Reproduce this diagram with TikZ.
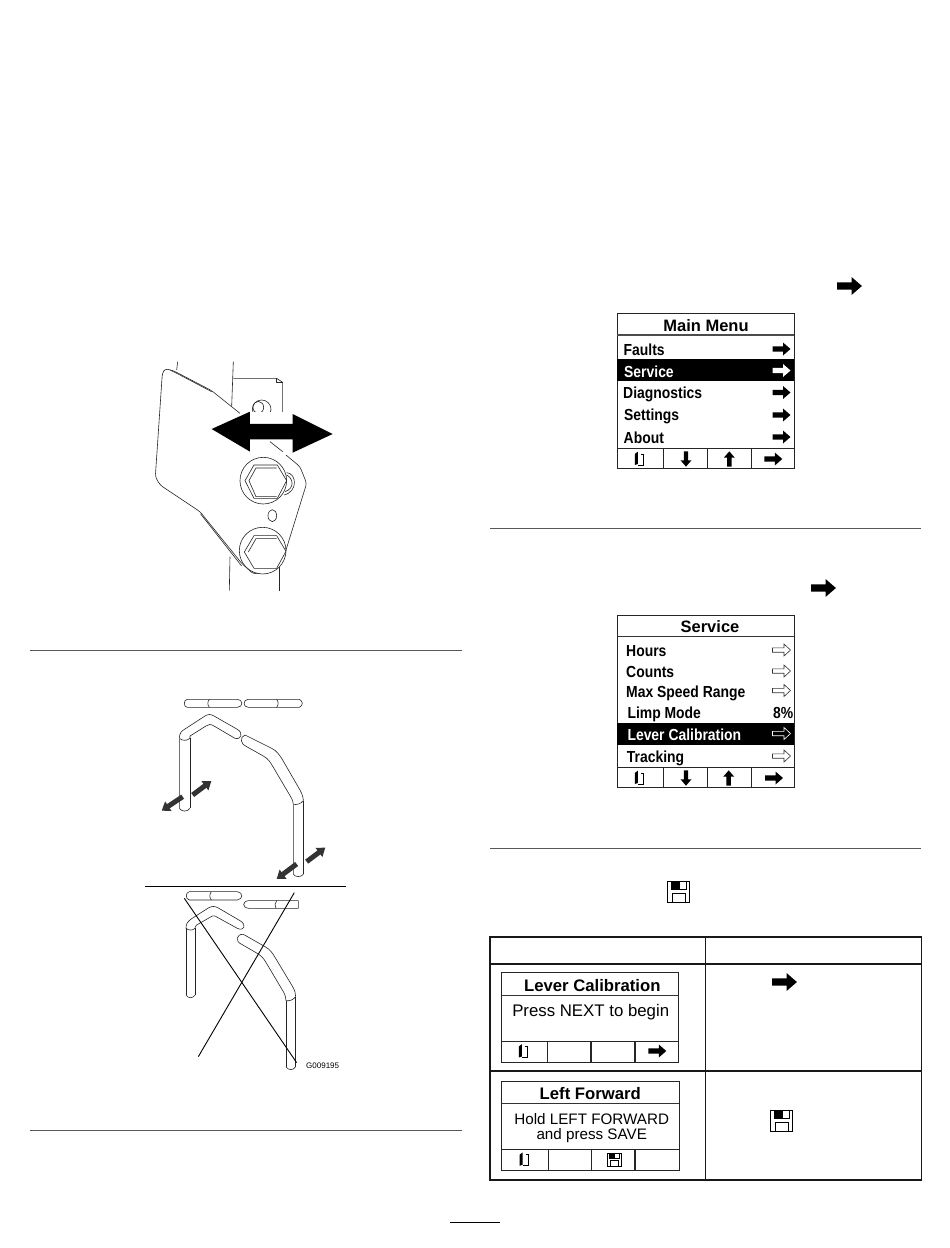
\documentclass[tikz,border=0pt]{standalone}
\usepackage{fontspec}
\setmainfont{Liberation Sans}
\newfontfamily\scrfam[FakeStretch=0.87]{Liberation Sans}
\usetikzlibrary{arrows.meta}
\newcommand{\fs}[1]{\fontsize{#1}{#1}\selectfont}
\tikzset{
  ruleline/.style={line width=1pt,draw=black!65},
  tubeline/.style={line width=0.6pt,draw=black!85,line join=round},
  thinline/.style={line width=0.7pt,draw=black},
  crossline/.style={line width=0.9pt,draw=black},
  movearrow/.style={line width=5pt,draw=black!80,-{Triangle[width=11pt,length=8pt]}},
  screenbox/.style={line width=1pt,draw=black!85,fill=white},
  softkey/.style={line width=1.5pt,draw=black!85},
  tablegrid/.style={line width=1.2pt,draw=black!90},
  menuitem/.style={anchor=base west,inner sep=0pt,font=\scrfam\bfseries\fs{16}},
  menuval/.style={anchor=base east,inner sep=0pt,font=\scrfam\bfseries\fs{16}},
  screentitle/.style={anchor=base,inner sep=0pt,font=\bfseries\fs{16.5}},
  screenbody/.style={anchor=base,inner sep=0pt},
  pics/solidarrow/.style={code={\fill (-9,-2.6)--(1.5,-2.6)--(1.5,-6.5)--(9,0)--(1.5,6.5)--(1.5,2.6)--(-9,2.6)--cycle;}},
  pics/hollowarrow/.style={code={\draw[line width=0.6pt] (-9,-2.2)--(2.5,-2.2)--(2.5,-6)--(9,0)--(2.5,6)--(2.5,2.2)--(-9,2.2)--cycle;}},
  pics/dooricon/.style={code={
    \fill (-4.5,6.5)--(-1.5,5.5)--(-1.5,-6.8)--(-4.5,-4.5)--cycle;
    \draw[line width=1pt] (-1,6.5)--(4,6.5)--(4,-4.5)--(1.5,-4.5);}},
  pics/saveicon/.style={code={
    \draw[line width=1.3pt,line join=miter] (-11,-10.5)--(11,-10.5)--(11,10.5)--(-11,10.5)--cycle;
    \draw[line width=1pt] (-6.5,10.5)--(-6.5,1.5)--(6.5,1.5)--(6.5,10.5);
    \draw[line width=1pt] (-7.5,-10.5)--(-7.5,-3)--(7.5,-3)--(7.5,-10.5);
    \fill (-7.5,-3) rectangle (1.5,-10.5);}}
}
\begin{document}
\begin{tikzpicture}[x=1pt,y=-1pt]
\useasboundingbox (0,0) rectangle (950,1248);
\fill[white] (0,0) rectangle (950,1248);

% page rules
\draw[ruleline] (30,650)--(462,650);
\draw[ruleline] (30,1130)--(462,1130);
\draw[ruleline] (490,528)--(921,528);
\draw[ruleline] (490,848)--(921,848);
\draw[line width=1pt,draw=black] (450,1222)--(500,1222);

% ---- figure 1: bracket and bolts
\begin{scope}[shift={(130,350)},x=0.3333pt,y=-0.3333pt]
  \draw[tubeline] (143,35)--(140,60);
  \draw[tubeline] (310,35)--(305,170);
  \draw[tubeline] (310,85)--(440,85)--(458,97)--(458,300);
  \draw[tubeline] (440,85)--(440,97)--(458,97);
  \draw[tubeline] (300,620)--(298,722);
  \draw[tubeline] (448,650)--(448,722);
  \draw[tubeline] (365,210)--(458,210);
  \draw[tubeline] (395,178) circle[radius=28];
  \draw[tubeline] (385,172) ellipse[x radius=16,y radius=18];
  % plate
  \draw[tubeline,rounded corners=3pt,fill=white]
     (330,190)--(245,122)--(130,62)--(105,56)--(97,70)--(76,380)--(90,405)--(210,485)--(335,640)--(370,672)--(430,665)--(465,610)--(530,400)--(510,350)--(420,275);
  \draw[tubeline] (245,125)--(150,75)--(120,60);
  \draw[tubeline] (212,492)--(335,648);
  % upper bolt
  \draw[tubeline] (470,368)..controls (500,370) and (505,425)..(462,435);
  \draw[tubeline] (470,375)..controls (490,385) and (495,415)..(465,425);
  \draw[tubeline,fill=white] (400,392) circle[radius=70];
  \draw[tubeline] (345,392)--(372,345)--(442,345)--(470,392)--(442,445)--(372,445)--cycle;
  \draw[tubeline] (357,392)--(378,354)--(440,354);
  \draw[tubeline] (357,392)--(378,440)--(440,440);
  % small hole
  \draw[tubeline] (427,497) ellipse[x radius=13,y radius=18];
  % lower bolt
  \draw[tubeline,fill=white] (398,602) circle[radius=70];
  \draw[tubeline] (343,606)--(372,557)--(440,557)--(468,604)--(440,655)--(372,655)--cycle;
  \draw[tubeline] (355,606)--(378,566)--(440,566);
  % double arrow
  \fill[white] (360,185)--(488,185)--(488,315)--(360,315)--cycle;
  \fill[black] (245,237)--(360,185)--(360,222)--(488,222)--(488,192)--(608,252)--(488,308)--(488,268)--(360,268)--(360,305)--cycle;
  \draw[tubeline] (420,275)--(458,305);
\end{scope}

% ---- figure 2: tube routing
\begin{scope}[shift={(140,680)},x=0.3333pt,y=-0.3333pt]
  % top slats
  \draw[tubeline] (142,58)--(292,58)..controls (310,58) and (310,82)..(292,82)--(142,82)..controls (130,82) and (130,58)..(142,58);
  \draw[tubeline] (208,58)..controls (202,66) and (202,74)..(208,82);
  \draw[tubeline] (325,58)--(478,58)..controls (490,64) and (490,76)..(478,82)--(325,82)..controls (308,82) and (308,58)..(325,58);
  \draw[tubeline] (410,58)..controls (416,66) and (416,74)..(410,82);
  % left tube
  \draw[tubeline] (118,175)..controls (118,160) and (125,152)..(135,147)--(195,108)..controls (205,102) and (212,102)..(222,108)--(292,148)..controls (310,158) and (305,180)..(285,175)--(222,138)..controls (212,132) and (206,132)..(198,138)--(150,168)..controls (150,172) and (150,174)..(150,175);
  \draw[tubeline] (118,175)..controls (128,183) and (140,183)..(150,175);
  \draw[line width=1pt,draw=black!55] (118,175)--(118,385);
  \draw[tubeline] (150,175)--(150,385);
  \draw[tubeline] (118,385)..controls (125,396) and (142,396)..(150,385);
  % right tube
  \draw[tubeline] (315,165)--(395,205)..controls (410,212) and (418,225)..(425,235)--(480,330)..controls (488,345) and (490,355)..(490,362);
  \draw[tubeline] (315,165)..controls (298,170) and (302,195)..(320,200)--(370,228)..controls (385,236) and (392,248)..(400,262)--(452,350)..controls (458,360) and (460,368)..(460,373);
  \draw[tubeline] (460,373)..controls (470,375) and (482,372)..(490,362);
  \draw[line width=1pt,draw=black!55] (460,373)--(460,583);
  \draw[tubeline] (490,362)--(490,583);
  \draw[tubeline] (460,583)..controls (466,592) and (484,592)..(490,583);
  % move arrows
  \coordinate (a1s) at (128,350);\coordinate (a1e) at (65,392);
  \coordinate (a2s) at (158,345);\coordinate (a2e) at (214,303);
  \coordinate (a3s) at (470,552);\coordinate (a3e) at (410,597);
  \coordinate (a4s) at (500,545);\coordinate (a4e) at (556,503);
  \draw[movearrow] (a1s)--(a1e);
  \draw[movearrow] (a2s)--(a2e);
  \draw[movearrow] (a3s)--(a3e);
  \draw[movearrow] (a4s)--(a4e);
  % divider
  \draw[line width=1.1pt] (15,620)--(618,620);
  % lower slats
  \draw[tubeline] (148,635)--(292,635)..controls (310,637) and (310,658)..(292,660)--(148,660)..controls (136,658) and (136,637)..(148,635);
  \draw[tubeline] (214,635)..controls (208,643) and (208,652)..(214,660);
  \draw[tubeline] (326,662)--(475,662)--(475,685)--(326,685)..controls (306,683) and (306,664)..(326,662);
  \draw[tubeline] (410,662)..controls (404,670) and (404,678)..(408,685);
  % lower left tube
  \draw[tubeline] (138,745)..controls (138,732) and (142,725)..(155,716)--(205,684)..controls (215,678) and (225,678)..(235,684)--(300,722)..controls (322,735) and (312,755)..(292,745)--(232,712)..controls (224,706) and (218,706)..(210,712)--(170,735)..controls (166,738) and (165,742)..(165,745);
  \draw[tubeline] (138,745)..controls (146,752) and (158,752)..(165,745);
  \draw[tubeline] (138,745)--(138,945);
  \draw[tubeline] (165,745)--(165,945);
  \draw[tubeline] (138,945)..controls (145,956) and (158,956)..(165,945);
  % lower right tube
  \draw[tubeline] (310,763)--(375,800)..controls (390,808) and (398,820)..(405,832)--(458,920)..controls (465,932) and (467,942)..(467,950);
  \draw[tubeline] (310,763)..controls (288,762) and (285,785)..(305,793)--(355,822)..controls (368,830) and (375,842)..(382,854)--(430,935)..controls (436,945) and (438,955)..(438,962);
  \draw[tubeline] (438,962)..controls (448,964) and (460,960)..(467,950);
  \draw[tubeline] (438,962)--(438,1160);
  \draw[tubeline] (467,950)--(467,1160);
  \draw[tubeline] (438,1160)..controls (445,1172) and (460,1172)..(467,1160);
  % cross
  \draw[crossline] (133,655)--(470,1148);
  \draw[crossline] (463,638)--(175,1130);
\end{scope}
\node[anchor=base west,inner sep=0pt,font=\fs{8}] (gnum) at (306,1068.5) {G009195};

% ---- loose icons
\path (849.5,286) pic[scale=1.38] {solidarrow};
\path (823.5,588) pic[scale=1.38] {solidarrow};
\path (678.5,892) pic {saveicon};

% ---- Main Menu screen
\draw[screenbox] (617.3,313.3) rectangle (794.3,468.3);
\fill[black] (617.3,359.3) rectangle (794.3,381);
\draw[line width=1.2pt,draw=black!70] (617.3,335)--(794.3,335);
\draw[softkey] (617.3,448.3)--(794.3,448.3);
\draw[softkey] (663.3,448.3)--(663.3,468.3);
\draw[softkey] (707.3,448.3)--(707.3,468.3);
\draw[softkey] (751.7,448.3)--(751.7,468.3);
\node[screentitle] (mmtitle) at (706,331.7) {Main Menu};
\node[menuitem] (mm1) at (623.5,355) {Faults};
\node[menuitem,text=white] (mm2) at (624,377.3) {Service};
\node[menuitem] (mm3) at (623,398.3) {Diagnostics};
\node[menuitem] (mm4) at (624,420.7) {Settings};
\node[menuitem] (mm5) at (623.5,443.3) {About};
\path (781.5,349) pic {solidarrow};
\path (781.5,370.5) pic[fill=white] {solidarrow};
\path (781.5,392.5) pic {solidarrow};
\path (781.5,415) pic {solidarrow};
\path (781.5,437) pic {solidarrow};
\path (639.3,458.5) pic {dooricon};
\path (686,459) pic[scale=0.85,rotate=-90] {solidarrow};
\path (729.3,459) pic[scale=0.85,rotate=90] {solidarrow};
\path (773.3,459) pic {solidarrow};

% ---- Service screen
\draw[screenbox] (617.3,615) rectangle (794.3,787.7);
\fill[black] (617.3,723.3) rectangle (794.3,745);
\draw[line width=1pt,draw=black!80] (617.3,636.7)--(794.3,636.7);
\draw[softkey] (617.3,767.7)--(794.3,767.7);
\draw[softkey] (663.3,767.7)--(663.3,787.7);
\draw[softkey] (707.3,767.7)--(707.3,787.7);
\draw[softkey] (751.7,767.7)--(751.7,787.7);
\node[screentitle] (svtitle) at (710,632.7) {Service};
\node[menuitem] (sv1) at (626,656) {Hours};
\node[menuitem] (sv2) at (626,677.7) {Counts};
\node[menuitem] (sv3) at (626,697.7) {Max Speed Range};
\node[menuitem] (sv4) at (627.3,718.3) {Limp Mode};
\node[menuitem,text=white] (sv5) at (627.3,740.3) {Lever Calibration};
\node[menuitem] (sv6) at (626.7,762.7) {Tracking};
\node[menuval] (sv4v) at (793.5,718.3) {8\%};
\path (781.5,650) pic[draw=black!80] {hollowarrow};
\path (781.5,671) pic[draw=black!80] {hollowarrow};
\path (781.5,690.5) pic[draw=black!80] {hollowarrow};
\path (781.5,733.5) pic[draw=white] {hollowarrow};
\path (781.5,756) pic[draw=black!80] {hollowarrow};
\path (639.3,777.5) pic {dooricon};
\path (686,778) pic[scale=0.85,rotate=-90] {solidarrow};
\path (728.7,778) pic[scale=0.85,rotate=90] {solidarrow};
\path (774,778) pic {solidarrow};

% ---- table
\draw[tablegrid] (490,937) rectangle (921.5,1180);
\draw[tablegrid] (705.7,937)--(705.7,1180);
\draw[tablegrid] (490,964)--(921.5,964);
\draw[tablegrid] (490,1071)--(921.5,1071);
\path (784.5,982) pic[scale=1.38] {solidarrow};
\path (781.5,1121) pic {saveicon};

% Lever Calibration screen
\draw[screenbox] (501.7,972.7) rectangle (678.7,1062.3);
\draw[line width=0.9pt,draw=black!80] (501.7,995)--(678.7,995);
\draw[softkey,line width=1.1pt] (501.7,1041.7)--(678.7,1041.7);
\draw[softkey] (547.7,1041.7)--(547.7,1062.3);
\draw[softkey] (591,1041.7)--(591,1062.3);
\draw[softkey] (635,1041.7)--(635,1062.3);
\node[screentitle,font=\bfseries\fs{16.7}] (lctitle) at (592.3,991.7) {Lever Calibration};
\node[screenbody,font=\fs{16.8}] (lcbody) at (590.7,1016.7) {Press NEXT to begin};
\path (523.3,1051) pic {dooricon};
\path (657.3,1051) pic {solidarrow};

% Left Forward screen
\draw[screenbox] (501.7,1081) rectangle (679,1170.3);
\draw[line width=0.9pt,draw=black!80] (501.7,1103.3)--(679,1103.3);
\draw[softkey,line width=1.1pt] (501.7,1149.3)--(679,1149.3);
\draw[softkey] (548.3,1149.3)--(548.3,1170.3);
\draw[softkey] (591.7,1149.3)--(591.7,1170.3);
\draw[softkey] (635,1149.3)--(635,1170.3);
\node[screentitle,font=\bfseries\fs{16.7}] (lftitle) at (590.3,1099) {Left Forward};
\node[screenbody,font=\fs{15.2}] (lfbody1) at (591.7,1124.3) {Hold LEFT FORWARD};
\node[screenbody,font=\fs{15.2}] (lfbody2) at (591.7,1139.3) {and press SAVE};
\path (524,1159.3) pic {dooricon};
\path (614.3,1160) pic[scale=0.65] {saveicon};
\end{tikzpicture}
\end{document}
